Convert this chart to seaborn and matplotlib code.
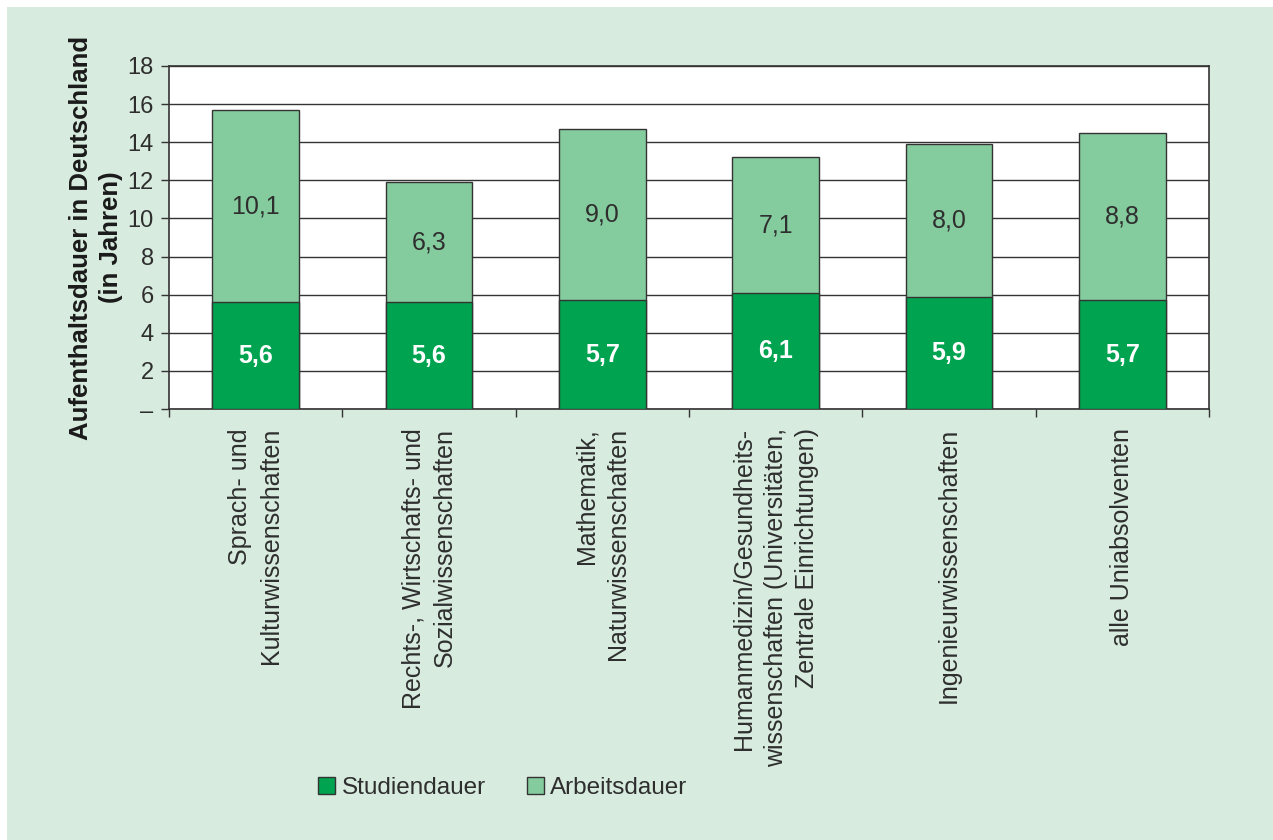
import matplotlib
matplotlib.use("Agg")
import matplotlib.pyplot as plt
from matplotlib.patches import Rectangle, Patch
import seaborn as sns
import pandas as pd

# Fächergruppen und Aufenthaltsdauer (Jahre)
categories = [
    "Sprach- und\nKulturwissenschaften",
    "Rechts-, Wirtschafts- und\nSozialwissenschaften",
    "Mathematik,\nNaturwissenschaften",
    "Humanmedizin/Gesundheits-\nwissenschaften (Universitäten,\nZentrale Einrichtungen)",
    "Ingenieurwissenschaften",
    "alle Uniabsolventen",
]
studiendauer = [5.6, 5.6, 5.7, 6.1, 5.9, 5.7]
arbeitsdauer = [10.1, 6.3, 9.0, 7.1, 8.0, 8.8]
y_ticks = [0, 2, 4, 6, 8, 10, 12, 14, 16, 18]
y_ticklabels = ["–", "2", "4", "6", "8", "10", "12", "14", "16", "18"]

def fmt(v):
    return f"{v:.1f}".replace(".", ",")

DARK = "#00a34f"
LIGHT = "#84cb9d"
BG = "#d7ebde"
TXT = "#2e2e2e"
EDGE = "#333333"

sns.set_theme(style="white")
plt.rcParams["font.family"] = ["Liberation Sans", "DejaVu Sans"]

df = pd.DataFrame({
    "kat": categories,
    "studium": studiendauer,
    "arbeit": arbeitsdauer,
})
df["gesamt"] = df["studium"] + df["arbeit"]

fig = plt.figure(figsize=(12.73, 8.4), dpi=100, facecolor="white")
fig.patches.append(Rectangle((7 / 1273, 0), 1 - 7 / 1273, 1 - 7 / 840,
                             transform=fig.transFigure, facecolor=BG,
                             edgecolor="none", zorder=-10))

ax = fig.add_axes([169 / 1273, 1 - 409 / 840, 1040 / 1273, 343 / 840])
ax.set_facecolor("white")

sns.barplot(data=df, x="kat", y="gesamt", color=LIGHT, saturation=1,
            width=0.5, edgecolor=EDGE, linewidth=1, ax=ax, zorder=3)
sns.barplot(data=df, x="kat", y="studium", color=DARK, saturation=1,
            width=0.5, edgecolor=EDGE, linewidth=1, ax=ax, zorder=4)

for i, (s, a) in enumerate(zip(studiendauer, arbeitsdauer)):
    ax.text(i, s / 2, fmt(s), ha="center", va="center", color="white",
            fontsize=18, fontweight="bold", zorder=5)
    ax.text(i, s + a / 2, fmt(a), ha="center", va="center", color=TXT,
            fontsize=18, zorder=5)

ax.set_ylim(0, 18)
ax.set_xlim(-0.5, len(categories) - 0.5)
ax.set_yticks(y_ticks)
ax.set_yticklabels(y_ticklabels, fontsize=17, color=TXT)
ax.yaxis.grid(True, color=EDGE, linewidth=1)
ax.set_axisbelow(True)

ax.set_xticks([i - 0.5 for i in range(len(categories) + 1)])
ax.set_xticklabels([])
ax.tick_params(axis="x", direction="out", length=6, width=1, color=EDGE,
               bottom=True)
ax.tick_params(axis="y", direction="out", length=6, width=1, color=EDGE,
               left=True, pad=5)
for i, lab in enumerate(categories):
    ax.text(i, -1.0, lab, rotation=90, ha="center", va="top",
            multialignment="right", fontsize=18, color=TXT,
            linespacing=1.38)

for sp in ax.spines.values():
    sp.set_visible(True)
    sp.set_color(EDGE)
    sp.set_linewidth(1.2)

ax.set_xlabel("")
ax.set_ylabel("Aufenthaltsdauer in Deutschland\n(in Jahren)", fontsize=18.5,
              fontweight="bold", color="#1a1a1a", labelpad=3,
              linespacing=1.3)

handles = [Patch(facecolor=DARK, edgecolor=EDGE, label="Studiendauer"),
           Patch(facecolor=LIGHT, edgecolor=EDGE, label="Arbeitsdauer")]
fig.legend(handles=handles, loc="center", bbox_to_anchor=(0.395, 0.062),
           ncol=2, frameon=False, fontsize=17.5, handlelength=0.7,
           handleheight=0.7, handletextpad=0.25, columnspacing=1.7,
           labelcolor=TXT)

fig.savefig("out.png", dpi=100, facecolor="white")
